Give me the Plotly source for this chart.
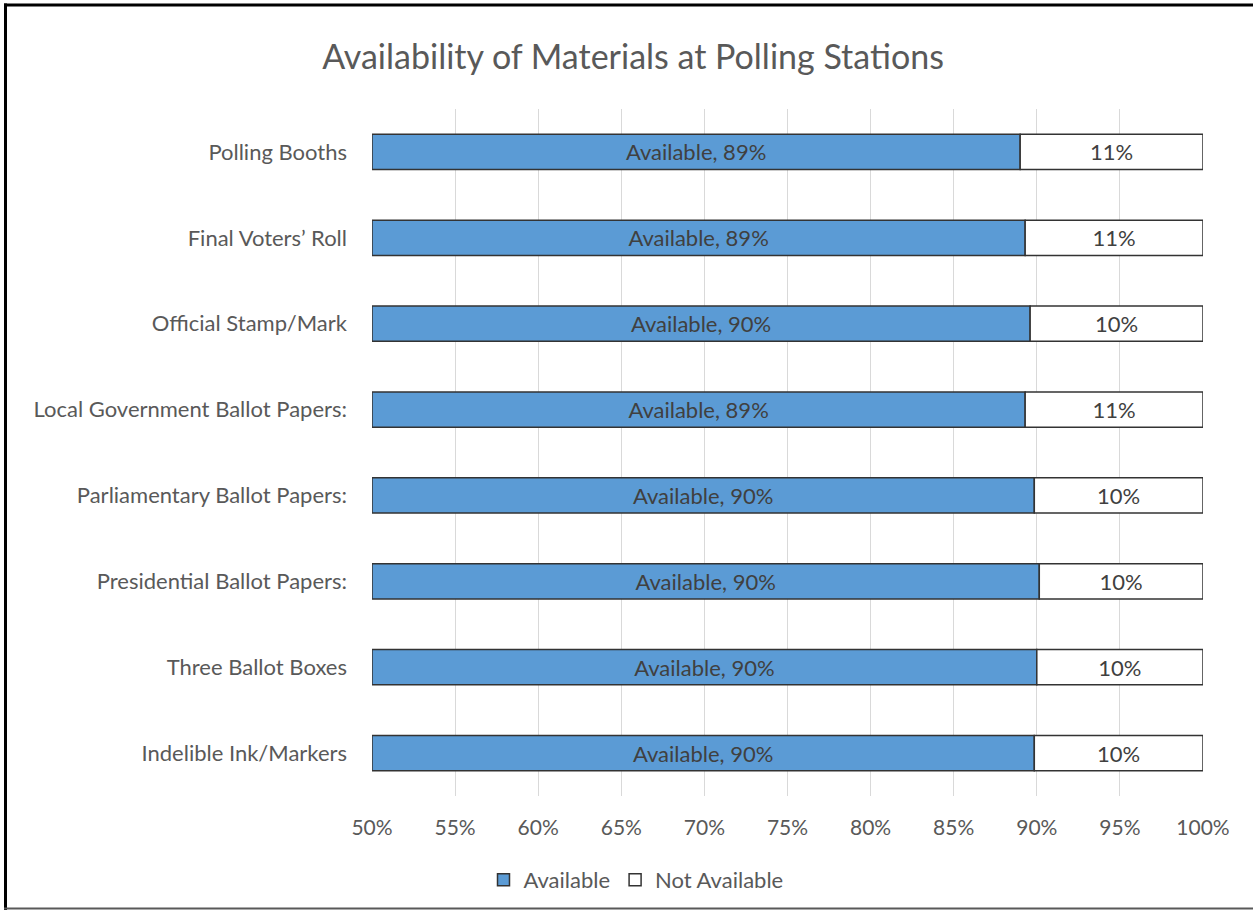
import plotly.graph_objects as go

categories = ["Polling Booths", "Final Voters’ Roll", "Official Stamp/Mark",
              "Local Government Ballot Papers:", "Parliamentary Ballot Papers:",
              "Presidential Ballot Papers:", "Three Ballot Boxes", "Indelible Ink/Markers"]
available = [89.0, 89.3, 89.6, 89.3, 89.85, 90.15, 90.0, 89.85]
not_available = [11.0, 10.7, 10.4, 10.7, 10.15, 9.85, 10.0, 10.15]
tick_vals = [50, 55, 60, 65, 70, 75, 80, 85, 90, 95, 100]
tick_text = [f"{v}%" for v in tick_vals]

AXIS_MIN = 50
W, H = 1253, 910
ML, MR, MT, MB = 372, 50, 109, 114
FONT = "Lato, Carlito, Calibri, sans-serif"
TXT = "#595959"

fig = go.Figure()
fig.add_trace(go.Bar(
    name="Available", y=categories, x=[a - AXIS_MIN for a in available], base=AXIS_MIN,
    orientation="h", width=0.41,
    marker=dict(color="#5B9BD5", line=dict(color="#333333", width=1.5)),
    text=[f"Available, {round(a)}%" for a in available],
    textposition="inside", insidetextanchor="middle",
    textfont=dict(family=FONT, size=22, color="#404040"),
))
fig.add_trace(go.Bar(
    name="Not Available", y=categories, x=not_available,
    base=available, orientation="h", width=0.41,
    marker=dict(color="#FFFFFF", line=dict(color="#333333", width=1.5)),
    text=[f"{round(v)}%" for v in not_available],
    textposition="inside", insidetextanchor="middle",
    textfont=dict(family=FONT, size=22, color="#404040"),
))

pw = W - ML - MR
ph = H - MT - MB

def px_x(p):
    return (p - ML) / pw

def px_y(p):
    return 1 - (p - MT) / ph

fig.update_layout(
    width=W, height=H,
    margin=dict(l=ML, r=MR, t=MT, b=MB),
    paper_bgcolor="white", plot_bgcolor="white",
    barmode="overlay",
    showlegend=True,
    title=dict(text="Availability of Materials at Polling Stations",
               x=633 / W, xref="container", xanchor="center",
               y=1 - 57 / H, yref="container", yanchor="middle",
               font=dict(family=FONT, size=34, color=TXT)),
    legend=dict(orientation="h", x=636 / W, xref="container", xanchor="center",
                y=1 - 880 / H, yref="container", yanchor="middle",
                font=dict(family=FONT, size=22, color=TXT),
                itemwidth=30, traceorder="normal"),
    xaxis=dict(range=[50, 100], tickvals=tick_vals, ticktext=tick_text,
               showgrid=True, gridcolor="#D9D9D9", gridwidth=1,
               zeroline=False, showline=False, ticks="",
               tickfont=dict(family=FONT, size=21, color=TXT),
               ticklabelstandoff=17),
    yaxis=dict(categoryorder="array", categoryarray=categories, autorange="reversed",
               showgrid=False, showline=False, ticks="",
               tickfont=dict(family=FONT, size=22, color=TXT),
               ticklabelstandoff=24),
    shapes=[
        dict(type="line", xref="paper", yref="paper",
             x0=px_x(4), x1=px_x(1260), y0=px_y(5), y1=px_y(5),
             line=dict(color="#000000", width=3), layer="above"),
        dict(type="line", xref="paper", yref="paper",
             x0=px_x(5.5), x1=px_x(5.5), y0=px_y(3.5), y1=px_y(910),
             line=dict(color="#000000", width=3), layer="above"),
        dict(type="line", xref="paper", yref="paper",
             x0=px_x(4), x1=px_x(1260), y0=px_y(908.5), y1=px_y(908.5),
             line=dict(color="#595959", width=2), layer="above"),
    ],
)

fig.write_html("out.html", config={"displayModeBar": False},
               post_script="document.body.style.margin='0';")
